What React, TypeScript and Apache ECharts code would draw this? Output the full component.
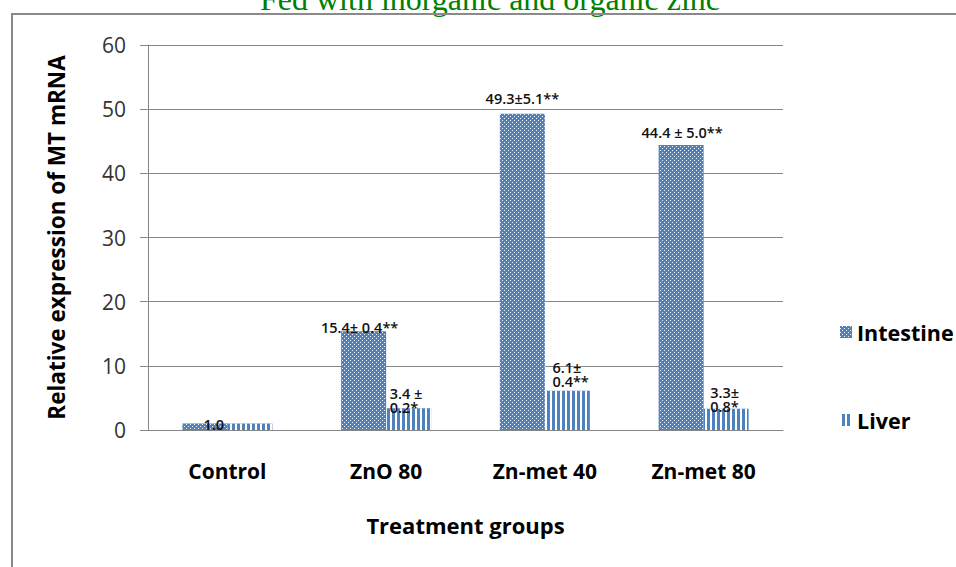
import React, { useEffect, useRef } from 'react';
import * as echarts from 'echarts';

const categories = ['Control', 'ZnO 80', 'Zn-met 40', 'Zn-met 80'];
const seriesNames = ['Intestine', 'Liver'];
const intestineValues = [1.0, 15.4, 49.3, 44.4];
const liverValues = [1.0, 3.4, 6.1, 3.3];
const intestineLabels = ['1.0', '15.4± 0.4**', '49.3±5.1**', '44.4 ± 5.0**'];
const liverLabels = ['', '3.4 ±\n0.2*', '6.1±\n0.4**', '3.3±\n0.8*'];
const yMin = 0;
const yMax = 60;
const yStep = 10;
const titleText = 'Fed with inorganic and organic zinc';
const xAxisTitle = 'Treatment groups';
const yAxisTitle = 'Relative expression of MT mRNA';

// label placement (pixels), kept apart from the data
const intestineLabelOffsets = [[9, 8], [-4, 4], [0, -8], [1, -5]];
const liverLabelOffsets = [[0, 0], [-19, 6], [-15, -2], [-16, 5]];

const BLUE = '#4F81BD';
const GRID = '#868686';
const FONT = '"Open Sans", "Noto Sans", sans-serif';

export default function App() {
  const ref = useRef<HTMLDivElement>(null);

  useEffect(() => {
    document.body.style.margin = '0';
    if (!ref.current) return;
    const chart = echarts.init(ref.current, null, { renderer: 'svg' });

    const dotDecal = {
      symbol: 'rect',
      symbolSize: 1,
      color: 'rgba(255,255,255,0.9)',
      dashArrayX: [[1, 3], [0, 2, 1, 1]],
      dashArrayY: [1, 1],
      rotation: 0,
    };
    const stripeDecal = {
      symbol: 'rect',
      symbolSize: 1,
      color: '#ffffff',
      dashArrayX: [2, 3],
      dashArrayY: [10, 0],
      rotation: 0,
    };

    const labelBase = {
      show: true,
      position: 'top',
      distance: 0,
      fontFamily: FONT,
      fontSize: 14.5,
      fontWeight: 600,
      color: '#111',
    };

    chart.setOption({
      animation: false,
      backgroundColor: '#ffffff',
      grid: { left: 148, right: 173, top: 45, bottom: 137, containLabel: false },
      legend: {
        data: seriesNames,
        orient: 'vertical',
        left: 835,
        top: 316,
        itemWidth: 12,
        itemHeight: 12,
        itemGap: 66,
        icon: 'rect',
        textStyle: { fontFamily: FONT, fontSize: 21.5, fontWeight: 'bold', color: '#000' },
      },
      xAxis: {
        type: 'category',
        data: categories,
        name: xAxisTitle,
        nameLocation: 'middle',
        nameGap: 84,
        nameTextStyle: { fontFamily: FONT, fontSize: 22, fontWeight: 'bold', color: '#000' },
        axisLine: { show: true, lineStyle: { color: GRID, width: 1 } },
        axisTick: { show: false },
        axisLabel: { margin: 30, fontFamily: FONT, fontSize: 21, fontWeight: 'bold', color: '#000' },
      },
      yAxis: {
        type: 'value',
        min: yMin,
        max: yMax,
        interval: yStep,
        name: yAxisTitle,
        nameLocation: 'middle',
        nameGap: 80,
        nameTextStyle: { fontFamily: FONT, fontSize: 22.5, fontWeight: 'bold', color: '#000' },
        axisLine: { show: true, lineStyle: { color: GRID, width: 1 } },
        axisTick: { show: true, length: 8, lineStyle: { color: GRID } },
        splitLine: { show: true, lineStyle: { color: GRID, width: 1 } },
        axisLabel: { margin: 22, fontFamily: FONT, fontSize: 21, color: '#333' },
      },
      series: [
        {
          name: seriesNames[0],
          type: 'bar',
          barWidth: 45,
          barGap: '0%',
          itemStyle: { color: BLUE, decal: dotDecal },
          data: intestineValues.map((v, i) => ({
            value: v,
            label: { ...labelBase, offset: intestineLabelOffsets[i], formatter: () => intestineLabels[i] },
          })),
        },
        {
          name: seriesNames[1],
          type: 'bar',
          barWidth: 45,
          barGap: '0%',
          itemStyle: { color: BLUE, decal: stripeDecal },
          data: liverValues.map((v, i) => ({
            value: v,
            label: {
              ...labelBase,
              show: liverLabels[i] !== '',
              align: 'left',
              lineHeight: 14,
              offset: liverLabelOffsets[i],
              formatter: () => liverLabels[i],
            },
          })),
        },
      ],
      graphic: [
        {
          type: 'text',
          x: 490,
          y: 15,
          style: {
            text: titleText,
            font: '32px "Liberation Serif", "Times New Roman", serif',
            fill: '#008000',
            align: 'center',
            verticalAlign: 'bottom',
          },
          silent: true,
        },
        {
          type: 'polyline',
          shape: { points: [[12, 570], [12, 14], [960, 14]] },
          style: { stroke: '#8a8a8a', lineWidth: 2, fill: 'none' },
          silent: true,
        },
      ],
    });

    return () => chart.dispose();
  }, []);

  return <div ref={ref} style={{ width: 956, height: 567 }} />;
}
